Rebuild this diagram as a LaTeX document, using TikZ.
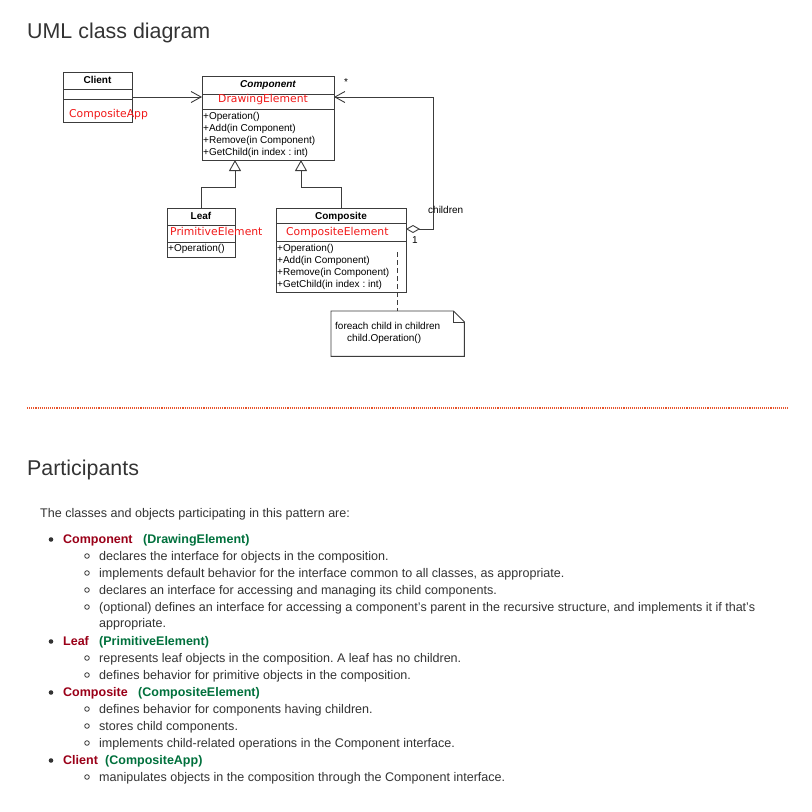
\documentclass[tikz,border=0pt]{standalone}
\usepackage{fontspec}
\setmainfont{Liberation Sans}
\newfontfamily\redfont{DejaVu Sans}
\usetikzlibrary{arrows.meta}
\definecolor{txt}{HTML}{333333}
\definecolor{uml}{HTML}{3C3C3C}
\definecolor{redname}{HTML}{F01818}
\definecolor{pred}{HTML}{9A0018}
\definecolor{pgreen}{HTML}{00703C}
\definecolor{sepcol}{HTML}{E8542C}
\frenchspacing
\begin{document}
\begin{tikzpicture}[x=1pt,y=-1pt,
  box/.style={draw=uml, line width=0.9pt, inner sep=0pt, outer sep=0pt, anchor=north west},
  umlline/.style={draw=uml, line width=0.9pt},
  ut/.style={font=\fontsize{10}{12}\selectfont, text=black, inner sep=0pt, anchor=base west},
  uh/.style={font=\fontsize{10}{12}\selectfont\bfseries, text=black, inner sep=0pt, anchor=base},
  rt/.style={font=\redfont\fontsize{10.8}{12}\selectfont, text=redname, inner sep=0pt, anchor=base west},
  assoc/.style={umlline, -{Straight Barb[length=10pt,width=11pt,line width=0.9pt]}},
  gen/.style={umlline, -{Triangle[open,length=11pt,width=12pt,line width=0.9pt,fill=white]}},
  title/.style={font=\fontsize{21.4}{24}\selectfont, text=txt, inner sep=0pt, anchor=base west},
  body/.style={font=\fontsize{12.55}{15}\selectfont, text=txt, inner sep=0pt, anchor=base west},
  phead/.style={font=\fontsize{12.5}{15}\selectfont\bfseries, text=pred, inner sep=0pt, anchor=base west},
  pname/.style={font=\fontsize{12.5}{15}\selectfont\bfseries, text=pgreen, inner sep=0pt, anchor=base west},
  dot1/.style={fill=txt, draw=none},
  dot2/.style={draw=txt, line width=0.8pt, fill=none}
]
\useasboundingbox (0,0) rectangle (812,812);

% ---------- titles ----------
\node[title] (t1) at (27,38.3) {UML class diagram};
\node[title] (t2) at (27,475) {Participants};

% ---------- UML boxes ----------
\node[box, minimum width=69pt, minimum height=50pt] (client) at (63,72) {};
\node[box, minimum width=132pt, minimum height=84pt] (component) at (202,76) {};
\node[box, minimum width=68pt, minimum height=49pt] (leaf) at (167,208) {};
\node[box, minimum width=130pt, minimum height=84pt] (composite) at (276,208) {};

% compartments
\draw[umlline] (client.west |- 0,89) -- (client.east |- 0,89);
\draw[umlline] (client.west |- 0,99) -- (client.east |- 0,99);
\draw[umlline] (component.west |- 0,94) -- (component.east |- 0,94);
\draw[umlline] (component.west |- 0,109) -- (component.east |- 0,109);
\draw[umlline] (leaf.west |- 0,225) -- (leaf.east |- 0,225);
\draw[umlline] (leaf.west |- 0,242) -- (leaf.east |- 0,242);
\draw[umlline] (composite.west |- 0,223) -- (composite.east |- 0,223);
\draw[umlline] (composite.west |- 0,241) -- (composite.east |- 0,241);

% texts in boxes
\node[uh] (clientH) at (97.5,83.6) {Client};
\node[rt] (clientR) at (69,117.7) {CompositeApp};

\node[uh] (compH) at (268,87.7) {\itshape Component};
\node[rt] (compR) at (218,102.7) {DrawingElement};
\node[ut] (c1) at (203,119) {+Operation()};
\node[ut] (c2) at (203,131) {+Add(in Component)};
\node[ut] (c3) at (203,143) {+Remove(in Component)};
\node[ut] (c4) at (203,155) {+GetChild(in index : int)};

\node[uh] (leafH) at (201,219) {Leaf};
\node[rt] (leafR) at (170,235) {PrimitiveElement};
\node[ut] (l1) at (168,251) {+Operation()};

\node[uh] (compoH) at (341,219) {Composite};
\node[rt] (compoR) at (286,235) {CompositeElement};
\node[ut] (o1) at (277,251) {+Operation()};
\node[ut] (o2) at (277,263) {+Add(in Component)};
\node[ut] (o3) at (277,275) {+Remove(in Component)};
\node[ut] (o4) at (277,287) {+GetChild(in index : int)};

% note
\node[inner sep=0pt, minimum width=133pt, minimum height=45pt, anchor=north west] (note) at (331,311) {};
\draw[umlline, fill=white] (note.north west) -- ([xshift=-11pt]note.north east) -- ([yshift=-11pt]note.north east) -- (note.south east) -- (note.south west) -- cycle;
\draw[umlline] ([xshift=-11pt]note.north east) -- ([xshift=-11pt,yshift=-11pt]note.north east) -- ([yshift=-11pt]note.north east);
\node[ut] (n1) at (335,329.3) {foreach child in children};
\node[ut] (n2) at (347,341.7) {child.Operation()};
\coordinate (dashTop) at (note.north |- 0,252);
\draw[umlline, dash pattern=on 5pt off 3pt] (dashTop) -- (note.north);

% connectors
\draw[assoc] (client.east) -- (client.east -| component.west);
\coordinate (aggEnd) at (433,229);
\coordinate (aggTop) at (433,97);
\draw[umlline, {Diamond[open,length=14pt,width=8pt,line width=0.9pt,fill=white]}-] (composite.east |- aggEnd) -- (aggEnd) -- (aggTop);
\draw[assoc] (aggTop) -- (aggTop -| component.east);
\node[ut] (starL) at (344,85) {*};
\node[ut] (childrenL) at (428,213.3) {children};
\node[ut] (oneL) at (412,243.3) {1};

\draw[gen] (leaf.north) -- ++(0,-21) -| ([xshift=-33pt]component.south);
\draw[gen] (composite.north) -- ++(0,-21) -| ([xshift=33pt]component.south);

% separator
\coordinate (sepL) at (27,408);
\coordinate (sepR) at (789,408);
\draw[draw=sepcol, line width=1.1pt, dash pattern=on 1.1pt off 1pt] (sepL) -- (sepR);

% ---------- participants ----------
\node[body] (intro) at (40,517) {The classes and objects participating in this pattern are:};

\fill[dot1] (51,539.5) circle (2.3pt);
\node[phead] (h1) at (63,543) {Component};
\node[pname] (g1) at (143,543) {(DrawingElement)};
\draw[dot2] (87,556) circle (2.3pt);
\node[body] (b11) at (99,560) {declares the interface for objects in the composition.};
\draw[dot2] (87,573) circle (2.3pt);
\node[body] (b12) at (99,577) {implements default behavior for the interface common to all classes, as appropriate.};
\draw[dot2] (87,590) circle (2.3pt);
\node[body] (b13) at (99,594) {declares an interface for accessing and managing its child components.};
\draw[dot2] (87,607) circle (2.3pt);
\node[body] (b14) at (99,611) {(optional) defines an interface for accessing a component's parent in the recursive structure, and implements it if that's};
\node[body] (b14b) at (99,627.5) {appropriate.};

\fill[dot1] (51,641.5) circle (2.3pt);
\node[phead] (h2) at (63,645) {Leaf};
\node[pname] (g2) at (99,645) {(PrimitiveElement)};
\draw[dot2] (87,658) circle (2.3pt);
\node[body] (b21) at (99,662) {represents leaf objects in the composition. A leaf has no children.};
\draw[dot2] (87,675) circle (2.3pt);
\node[body] (b22) at (99,679) {defines behavior for primitive objects in the composition.};

\fill[dot1] (51,692.5) circle (2.3pt);
\node[phead] (h3) at (63,696) {Composite};
\node[pname] (g3) at (138,696) {(CompositeElement)};
\draw[dot2] (87,709) circle (2.3pt);
\node[body] (b31) at (99,713) {defines behavior for components having children.};
\draw[dot2] (87,726) circle (2.3pt);
\node[body] (b32) at (99,730) {stores child components.};
\draw[dot2] (87,743) circle (2.3pt);
\node[body] (b33) at (99,747) {implements child-related operations in the Component interface.};

\fill[dot1] (51,760.5) circle (2.3pt);
\node[phead] (h4) at (63,764) {Client};
\node[pname] (g4) at (105,764) {(CompositeApp)};
\draw[dot2] (87,777) circle (2.3pt);
\node[body] (b41) at (99,781) {manipulates objects in the composition through the Component interface.};
\end{tikzpicture}
\end{document}
